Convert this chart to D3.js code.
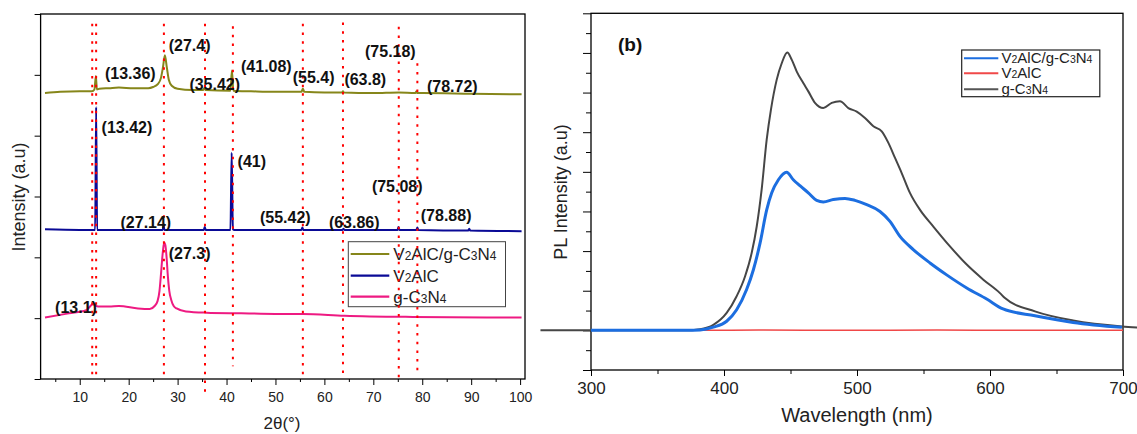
<!DOCTYPE html>
<html>
<head>
<meta charset="utf-8">
<script src="https://cdn.jsdelivr.net/npm/d3@7"></script>
<style>
  body { margin: 0; background: #fff; }
  svg { display: block; font-family: "Liberation Sans", Arial, sans-serif; }
</style>
</head>
<body>
<div id="chart"></div>
<script>
// ---- XRD data (left), [2theta, intensity offset units] ----
var xrdComposite = [[2.9,4.70],[6,4.72],[10,4.73],[12.5,4.73],[13.0,4.76],[13.3,4.98],[13.5,4.76],[14,4.77],[16,4.78],[18,4.79],[21,4.78],[24,4.78],[25,4.80],[26,4.85],[26.6,4.95],[27.0,5.12],[27.4,5.32],[27.8,5.12],[28.2,4.92],[28.8,4.82],[30,4.77],[33,4.75],[35.2,4.75],[35.45,4.78],[35.7,4.75],[40.8,4.74],[41.1,5.07],[41.4,4.74],[45,4.73],[50,4.72],[55.3,4.72],[55.6,4.77],[55.9,4.72],[60,4.71],[63.6,4.71],[63.8,4.73],[64.0,4.71],[70,4.70],[75.2,4.71],[78.6,4.70],[78.8,4.73],[79.0,4.70],[80,4.70],[90,4.69],[100.3,4.68]];
var xrdV2AlC = [[2.9,2.46],[10,2.45],[13.15,2.45],[13.35,4.47],[13.55,2.45],[20,2.45],[26.95,2.45],[27.14,2.53],[27.3,2.45],[35.35,2.45],[35.55,2.50],[35.75,2.45],[40.8,2.45],[41.05,3.72],[41.3,2.46],[41.6,2.45],[55.3,2.45],[55.5,2.49],[55.7,2.45],[63.7,2.45],[63.9,2.47],[64.1,2.45],[74.95,2.45],[75.15,2.50],[75.35,2.45],[78.8,2.45],[79.0,2.49],[79.2,2.45],[89.4,2.44],[89.6,2.47],[89.8,2.44],[100.3,2.43]];
var xrdGC3N4 = [[2.9,1.01],[7.8,1.08],[11.3,1.13],[12.7,1.23],[13.75,1.19],[16,1.19],[18,1.20],[21.9,1.16],[24.3,1.15],[25.3,1.20],[25.9,1.28],[26.3,1.45],[26.6,1.72],[26.9,2.02],[27.15,2.20],[27.3,2.24],[27.5,2.20],[27.75,2.00],[28.0,1.70],[28.3,1.45],[28.7,1.30],[29.2,1.20],[29.8,1.16],[31.7,1.11],[35.9,1.09],[43,1.08],[50,1.07],[55.6,1.07],[64.1,1.04],[78.1,1.02],[100.3,1.01]];

// red dotted reference lines: [2theta, top, bottom]
var peakLines = [[12.55,5.84,0.07],[13.35,5.84,0.07],[27.2,5.84,0.07],[35.6,5.84,-0.29],[41.3,5.80,0.21],[55.6,5.84,0.07],[63.8,5.86,0.08],[75.2,5.79,0],[79.0,5.19,0.14]];

// peak labels: [text, 2theta, intensity]
var peakLabels = [
  ["(13.36)",15.16,4.93],["(27.4)",28.18,5.39],["(35.42)",32.41,4.75],["(41.08)",42.96,5.04],
  ["(55.4)",53.52,4.86],["(63.8)",64.09,4.84],["(75.18)",68.3,5.30],["(78.72)",80.97,4.72],
  ["(13.42)",14.47,4.05],["(27.14)",18.33,2.49],["(41)",42.26,3.49],["(55.42)",46.84,2.57],
  ["(63.86)",60.92,2.49],["(75.08)",69.71,3.08],["(78.88)",79.7,2.59],
  ["(27.3)",28.18,1.98],["(13.1)",4.96,1.08]
];
var xrdTicks = [10,20,30,40,50,60,70,80,90,100];
var xrdNames = ["V2AlC/g-C3N4","V2AlC","g-C3N4"];

// ---- PL data (right), [wavelength nm, intensity] ----
var plGC3N4 = [[262,0],[300,0],[370,0],[382,0.03],[392,0.14],[402,0.44],[409.5,0.86],[415.8,1.36],[420.8,1.95],[424.6,2.62],[428.3,3.55],[432.1,4.81],[435.3,5.57],[439.6,6.32],[443.4,6.74],[447.6,7.01],[450.9,6.83],[454.7,6.53],[459.6,6.24],[463.4,6.03],[468.4,5.74],[474.7,5.61],[481,5.74],[487.2,5.78],[493.5,5.61],[499.8,5.52],[506,5.36],[512.3,5.15],[518.6,5.02],[523.6,4.73],[528.6,4.35],[533.6,3.97],[539.8,3.47],[547.4,3.04],[557.4,2.62],[569.9,2.12],[582.5,1.66],[595,1.28],[607.5,0.94],[611,0.82],[633.8,0.48],[662.5,0.25],[699.2,0.10],[712,0.07]];
var plV2AlC = [[300,0],[380,0],[430,0.01],[490,0],[560,0.01],[620,0],[700,0]];
var plComposite = [[300,0],[372,0],[382,0.01],[392,0.08],[402,0.23],[409.5,0.52],[417,1.03],[422.1,1.53],[427.1,2.2],[432.1,3.04],[435.9,3.47],[440.9,3.80],[447.1,3.99],[452.1,3.80],[457.1,3.65],[463.4,3.47],[469.7,3.28],[474.7,3.24],[482.2,3.30],[491,3.33],[498.5,3.28],[507.3,3.17],[517.3,3.0],[524.8,2.75],[532.3,2.37],[542.3,2.04],[554.9,1.70],[567.4,1.40],[582.5,1.07],[597.5,0.79],[609.8,0.54],[633.8,0.37],[662.5,0.20],[699.2,0.076]];
var plTicks = [300,400,500,600,700];
var plNames = ["V2AlC/g-C3N4","V2AlC","g-C3N4"];

var width = 1137, height = 434;
var svg = d3.select("#chart").append("svg").attr("width", width).attr("height", height);
svg.append("rect").attr("width", width).attr("height", height).attr("fill", "#fff");

// text with small digits (chemical formula look)
function formula(sel, str, big, small) {
  str.split(/(\d)/).forEach(function(p) {
    if (p === "") return;
    sel.append("tspan").text(p).style("font-size", /\d/.test(p) ? small + "px" : big + "px");
  });
}

// ================= left panel =================
var xL = d3.scaleLinear().domain([2, 101]).range([40.6, 525]);
var yL = d3.scaleLinear().domain([0, 6]).range([379, 14]);

svg.append("g").attr("transform", "translate(0,379)")
  .call(d3.axisBottom(xL).tickValues(d3.range(5, 100, 10)).tickSize(3).tickFormat(""))
  .call(function(g){ g.select(".domain").remove(); });
svg.append("g").attr("transform", "translate(0,379)")
  .call(d3.axisBottom(xL).tickValues(xrdTicks).tickSize(6).tickPadding(7))
  .call(function(g){
    g.select(".domain").remove();
    g.selectAll("text").style("font-size", "14px").attr("fill", "#222");
  });
svg.append("g").attr("transform", "translate(40.6,0)")
  .call(d3.axisLeft(yL).tickValues(d3.range(0, 7)).tickSize(6).tickFormat(""))
  .call(function(g){ g.select(".domain").remove(); });
svg.append("rect").attr("x", 40.6).attr("y", 14).attr("width", 525 - 40.6).attr("height", 365)
  .attr("fill", "none").attr("stroke", "#000").attr("stroke-width", 1.3);

var lineL = d3.line().x(function(d){ return xL(d[0]); }).y(function(d){ return yL(d[1]); }).curve(d3.curveMonotoneX);
var xrdSeries = [xrdGC3N4, xrdV2AlC, xrdComposite];
var xrdColors = ["#ee1a82", "#0a0a96", "#86861a"];
xrdSeries.forEach(function(s, i) {
  svg.append("path").datum(s).attr("d", lineL).attr("fill", "none")
    .attr("stroke", xrdColors[i]).attr("stroke-width", 2).attr("stroke-linejoin", "round");
});

// left legend
var legL = svg.append("g");
legL.append("rect").attr("x", 348.3).attr("y", 241.7).attr("width", 157.2).attr("height", 65)
  .attr("fill", "none").attr("stroke", "#444").attr("stroke-width", 1);
var legLColors = ["#86861a", "#0a0a96", "#ee1a82"];
var legLY = [254, 275.7, 296.7];
xrdNames.forEach(function(n, i) {
  legL.append("line").attr("x1", 350.7).attr("x2", 389.3).attr("y1", legLY[i]).attr("y2", legLY[i])
    .attr("stroke", legLColors[i]).attr("stroke-width", 2.2);
  var t = legL.append("text").attr("x", 393.3).attr("y", legLY[i] + 6).attr("fill", "#222");
  formula(t, n, 17, 12);
});

// red dotted guide lines
svg.selectAll(".guide").data(peakLines).enter().append("line")
  .attr("x1", function(d){ return xL(d[0]); }).attr("x2", function(d){ return xL(d[0]); })
  .attr("y1", function(d){ return yL(d[1]); }).attr("y2", function(d){ return yL(d[2]); })
  .attr("stroke", "#ff0000").attr("stroke-width", 2).attr("stroke-dasharray", "2.5,6.2");

svg.selectAll(".plabel").data(peakLabels).enter().append("text")
  .attr("x", function(d){ return xL(d[1]); }).attr("y", function(d){ return yL(d[2]); })
  .text(function(d){ return d[0]; })
  .style("font-size", "16px").style("font-weight", "bold").attr("fill", "#111");

svg.append("text").attr("transform", "translate(19,197) rotate(-90)")
  .attr("text-anchor", "middle").attr("dominant-baseline", "central")
  .style("font-size", "18px").attr("fill", "#222").text("Intensity (a.u)");
svg.append("text").attr("x", 282).attr("y", 429).attr("text-anchor", "middle")
  .style("font-size", "17px").attr("fill", "#222").text("2θ(°)");

// ================= right panel =================
var xR = d3.scaleLinear().domain([300, 700]).range([591, 1123]);
var yR = d3.scaleLinear().domain([-1, 8]).range([370, 13.3]);

svg.append("g").attr("transform", "translate(0,370)")
  .call(d3.axisBottom(xR).tickValues(d3.range(350, 700, 100)).tickSize(4).tickFormat(""))
  .call(function(g){ g.select(".domain").remove(); });
svg.append("g").attr("transform", "translate(0,370)")
  .call(d3.axisBottom(xR).tickValues(plTicks).tickSize(6).tickPadding(6))
  .call(function(g){
    g.select(".domain").remove();
    g.selectAll("text").style("font-size", "17px").attr("fill", "#222");
  });
svg.append("g").attr("transform", "translate(591,0)")
  .call(d3.axisLeft(yR).tickValues(d3.range(-0.5, 8, 1)).tickSize(5).tickFormat(""))
  .call(function(g){ g.select(".domain").remove(); });
svg.append("g").attr("transform", "translate(591,0)")
  .call(d3.axisLeft(yR).tickValues(d3.range(-1, 9, 1)).tickSize(8).tickFormat(""))
  .call(function(g){ g.select(".domain").remove(); });
svg.append("rect").attr("x", 591).attr("y", 13.3).attr("width", 1123 - 591).attr("height", 370 - 13.3)
  .attr("fill", "none").attr("stroke", "#000").attr("stroke-width", 1.3);

var lineR = d3.line().x(function(d){ return xR(d[0]); }).y(function(d){ return yR(d[1]); }).curve(d3.curveMonotoneX);
var plSeries = [plGC3N4, plV2AlC, plComposite];
var plColors = ["#464646", "#f04848", "#1c6ee0"];
var plWidths = [2, 1.5, 3];
plSeries.forEach(function(s, i) {
  svg.append("path").datum(s).attr("d", lineR).attr("fill", "none")
    .attr("stroke", plColors[i]).attr("stroke-width", plWidths[i]).attr("stroke-linejoin", "round");
});

// right legend
var legR = svg.append("g");
legR.append("rect").attr("x", 961.7).attr("y", 50).attr("width", 138.1).attr("height", 46.7)
  .attr("fill", "#fff").attr("stroke", "#222").attr("stroke-width", 1.2);
var legRColors = ["#1c6ee0", "#f04848", "#555"];
var legRY = [58.3, 73.3, 89.3];
plNames.forEach(function(n, i) {
  legR.append("line").attr("x1", 964).attr("x2", 998.3).attr("y1", legRY[i]).attr("y2", legRY[i])
    .attr("stroke", legRColors[i]).attr("stroke-width", 2);
  var t = legR.append("text").attr("x", 1001.5).attr("y", legRY[i] + 5).attr("fill", "#222");
  formula(t, n, 15, 10.5);
});

svg.append("text").attr("x", 618).attr("y", 51).style("font-size", "19px").style("font-weight", "bold")
  .attr("fill", "#111").text("(b)");
svg.append("text").attr("transform", "translate(561,192) rotate(-90)")
  .attr("text-anchor", "middle").attr("dominant-baseline", "central")
  .style("font-size", "18px").attr("fill", "#222").text("PL Intensity (a.u)");
svg.append("text").attr("x", 857).attr("y", 422).attr("text-anchor", "middle")
  .style("font-size", "20px").attr("fill", "#222").text("Wavelength (nm)");
</script>
</body>
</html>
